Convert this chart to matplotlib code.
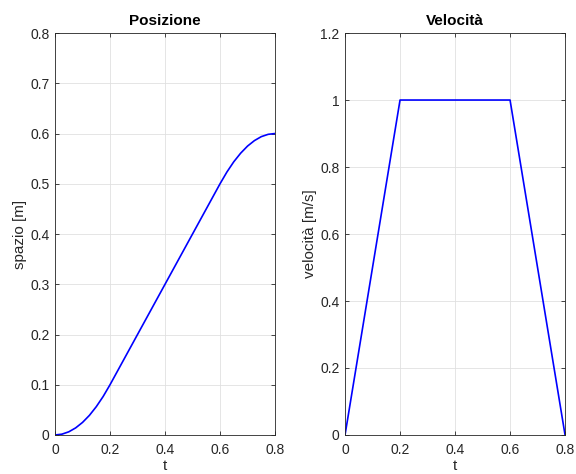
import matplotlib
matplotlib.use("Agg")
import matplotlib.pyplot as plt

plt.rcParams['font.family'] = ['Liberation Sans', 'DejaVu Sans']

# Time samples and position of the motion law
t_pos = [0.0, 0.025, 0.05, 0.075, 0.1, 0.125, 0.15, 0.175, 0.2, 0.225, 0.25,
         0.275, 0.3, 0.325, 0.35, 0.375, 0.4, 0.425, 0.45, 0.475, 0.5, 0.525,
         0.55, 0.575, 0.6, 0.625, 0.65, 0.675, 0.7, 0.725, 0.75, 0.775, 0.8]
spazio = [0.0, 0.0016, 0.0063, 0.0141, 0.025, 0.039, 0.0563, 0.0766, 0.1,
          0.125, 0.15, 0.175, 0.2, 0.225, 0.25, 0.275, 0.3, 0.325, 0.35, 0.375,
          0.4, 0.425, 0.45, 0.475, 0.5, 0.5234, 0.5438, 0.5609, 0.575, 0.5859,
          0.5938, 0.5984, 0.6]

# Trapezoidal velocity profile
t_vel = [0.0, 0.2, 0.6, 0.8]
velocita = [0.0, 1.0, 1.0, 0.0]

x_ticks = [0, 0.2, 0.4, 0.6, 0.8]
x_labels = ['0', '0.2', '0.4', '0.6', '0.8']
pos_ticks = [0, 0.1, 0.2, 0.3, 0.4, 0.5, 0.6, 0.7, 0.8]
pos_labels = ['0', '0.1', '0.2', '0.3', '0.4', '0.5', '0.6', '0.7', '0.8']
vel_ticks = [0, 0.2, 0.4, 0.6, 0.8, 1.0, 1.2]
vel_labels = ['0', '0.2', '0.4', '0.6', '0.8', '1', '1.2']

fig = plt.figure(figsize=(5.76, 4.74), dpi=100)
ax1 = fig.add_axes([0.0955, 0.0823, 0.382, 0.848])
ax2 = fig.add_axes([0.599, 0.0823, 0.382, 0.848])

text_col = '#262626'
edge_col = '#262626'


def style(ax, yticks, ylabels, ylim, title, ylabel):
    ax.set_xlim(0, 0.8)
    ax.set_ylim(*ylim)
    ax.set_xticks(x_ticks)
    ax.set_xticklabels(x_labels)
    ax.set_yticks(yticks)
    ax.set_yticklabels(ylabels)
    ax.grid(True, color='#e0e0e0', linewidth=0.6)
    ax.set_axisbelow(True)
    ax.tick_params(direction='in', top=True, right=True, length=3,
                   width=0.6, color=edge_col, labelsize=10,
                   labelcolor=text_col, pad=4)
    ax.tick_params(axis='x', pad=6)
    for s in ax.spines.values():
        s.set_color(edge_col)
        s.set_linewidth(0.6)
    ax.set_title(title, fontsize=11, fontweight='bold', color='#000000', pad=6)
    ax.set_xlabel('t', fontsize=11, color=text_col, labelpad=1)
    ax.set_ylabel(ylabel, fontsize=11, color=text_col, labelpad=2)


ax1.plot(t_pos, spazio, color='#0000ff', linewidth=1.2)
style(ax1, pos_ticks, pos_labels, (0, 0.8), 'Posizione', 'spazio [m]')

ax2.plot(t_vel, velocita, color='#0000ff', linewidth=1.2)
style(ax2, vel_ticks, vel_labels, (0, 1.2), 'Velocità', 'velocità [m/s]')

fig.savefig('out.png', dpi=100, facecolor='white')
